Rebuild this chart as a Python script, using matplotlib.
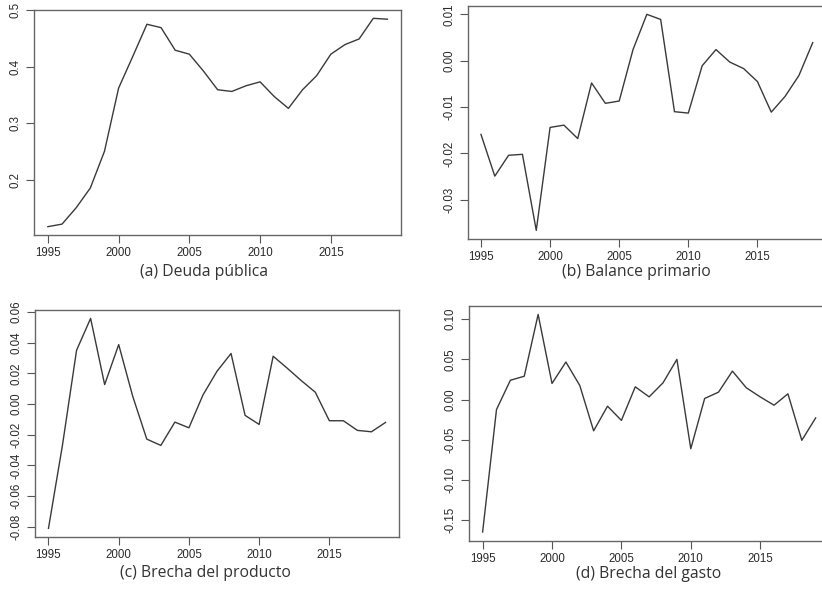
import numpy as np
import matplotlib.pyplot as plt
import matplotlib.ticker as mticker

years = np.arange(1995, 2020)

deuda = [0.1165, 0.121, 0.150, 0.185, 0.250, 0.362, 0.418, 0.475, 0.469, 0.429,
         0.422, 0.392, 0.359, 0.356, 0.366, 0.373, 0.347, 0.326, 0.359, 0.384,
         0.422, 0.439, 0.449, 0.4855, 0.484]
balance = [-0.0159, -0.0249, -0.0204, -0.0202, -0.0366, -0.0144, -0.0139, -0.0168, -0.0048, -0.0092,
           -0.0087, 0.0024, 0.0100, 0.0089, -0.0110, -0.0113, -0.0011, 0.0024, -0.0003, -0.0017,
           -0.0045, -0.0111, -0.0077, -0.0032, 0.0039]
brecha_prod = [-0.0811, -0.0266, 0.0351, 0.0559, 0.0127, 0.0388, 0.0050, -0.0229, -0.0270, -0.0118,
               -0.0155, 0.0059, 0.0214, 0.0330, -0.0074, -0.0133, 0.0312, 0.0234, 0.0153, 0.0077,
               -0.0109, -0.0109, -0.0172, -0.0181, -0.0120]
brecha_gasto = [-0.165, -0.0125, 0.024, 0.029, 0.106, 0.020, 0.0467, 0.0175, -0.039, -0.0083,
                -0.026, 0.0158, 0.0033, 0.0208, 0.050, -0.0613, 0.0013, 0.0092, 0.0354, 0.0146,
                0.0033, -0.0071, 0.0071, -0.0508, -0.0229]

xticks = [1995, 2000, 2005, 2010, 2015]
yticks_a = [0.2, 0.3, 0.4, 0.5]
ylabels_a = ["0.2", "0.3", "0.4", "0.5"]
yticks_b = [-0.03, -0.02, -0.01, 0.00, 0.01]
ylabels_b = ["-0.03", "-0.02", "-0.01", "0.00", "0.01"]
yticks_c = [-0.08, -0.06, -0.04, -0.02, 0.00, 0.02, 0.04, 0.06]
ylabels_c = ["-0.08", "-0.06", "-0.04", "-0.02", "0.00", "0.02", "0.04", "0.06"]
yticks_d = [-0.15, -0.10, -0.05, 0.00, 0.05, 0.10]
ylabels_d = ["-0.15", "-0.10", "-0.05", "0.00", "0.05", "0.10"]

captions = ["(a) Deuda pública", "(b) Balance primario",
            "(c) Brecha del producto", "(d) Brecha del gasto"]

W, H = 822, 591
fig = plt.figure(figsize=(W / 100, H / 100), dpi=100)

# pixel boxes: left, top, right, bottom
boxes = [(34.3, 10, 401, 235),
         (467.7, 5.7, 826, 239),
         (35, 310, 399, 536.7),
         (469.3, 305.7, 829, 540.7)]
series = [deuda, balance, brecha_prod, brecha_gasto]
yt = [yticks_a, yticks_b, yticks_c, yticks_d]
yl = [ylabels_a, ylabels_b, ylabels_c, ylabels_d]
cap_pos = [(204, 272), (636, 272), (205, 573), (649, 574)]

for i in range(4):
    l, t, r, b = boxes[i]
    ax = fig.add_axes([l / W, 1 - b / H, (r - l) / W, (b - t) / H])
    y = np.array(series[i])
    ax.plot(years, y, color="#3a3a3a", lw=1.0)
    pad = 0.04 * (y.max() - y.min())
    ax.set_xlim(1994.04, 2019.96)
    ax.set_ylim(y.min() - pad, y.max() + pad)
    ax.set_xticks(xticks)
    ax.set_xticklabels([str(v) for v in xticks])
    ax.yaxis.set_major_locator(mticker.FixedLocator(yt[i]))
    ax.set_yticklabels(yl[i], rotation=90, va="center")
    ax.tick_params(length=6, width=0.8, color="#555555", labelsize=8.3,
                   labelcolor="#2a2a2a")
    ax.tick_params(axis="x", pad=3)
    ax.tick_params(axis="y", pad=3)
    for lab in ax.get_xticklabels() + ax.get_yticklabels():
        lab.set_family("Liberation Sans")
    for s in ax.spines.values():
        s.set_color("#666666")
        s.set_linewidth(1.0)
    cx, cy = cap_pos[i]
    fig.text(cx / W, 1 - cy / H, captions[i], ha="center", va="center",
             fontsize=11.3, family="Open Sans", color="#333333")

fig.savefig("out.png", dpi=100)
